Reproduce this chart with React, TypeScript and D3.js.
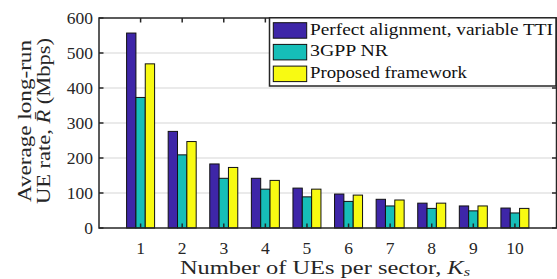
import React, { useEffect, useRef } from 'react'
import * as d3 from 'd3'

const categories = [1, 2, 3, 4, 5, 6, 7, 8, 9, 10]
const seriesNames = ['Perfect alignment, variable TTI', '3GPP NR', 'Proposed framework']
const legendWidths = [243, 78, 157]
const perfectAlignment = [557, 276, 183, 142, 114, 97, 82, 71, 63, 57]
const nr3gpp = [373, 209, 142, 111, 89, 76, 63, 56, 49, 43]
const proposed = [469, 247, 173, 136, 111, 94, 80, 71, 63, 56]
const yTicks = [0, 100, 200, 300, 400, 500, 600]
const colors = ['#3e26a8', '#16beb8', '#f8fa12']

const W = 557
const H = 279
const FONT = "'Liberation Serif', 'DejaVu Serif', serif"

const App: React.FC = () => {
  const svgRef = useRef<SVGSVGElement>(null)

  useEffect(() => {
    if (!svgRef.current) return
    const svg = d3.select(svgRef.current)
    svg.selectAll('*').remove()

    const left = 99
    const right = 556.5
    const top = 18
    const bottom = 228

    const x = d3.scaleLinear().domain([0, 11]).range([left, right])
    const y = d3.scaleLinear().domain([0, 600]).range([bottom, top])
    const groupWidth = 28
    const inner = d3.scaleBand<number>().domain([0, 1, 2]).range([-groupWidth / 2, groupWidth / 2])

    const series = [perfectAlignment, nr3gpp, proposed]

    // Grid
    svg
      .append('g')
      .selectAll('line')
      .data(yTicks.slice(1, -1))
      .enter()
      .append('line')
      .attr('x1', left)
      .attr('x2', right)
      .attr('y1', (d) => y(d))
      .attr('y2', (d) => y(d))
      .attr('stroke', '#e3e3e3')
      .attr('stroke-width', 1.5)

    // Bars
    series.forEach((vals, si) => {
      svg
        .append('g')
        .selectAll('rect')
        .data(vals)
        .enter()
        .append('rect')
        .attr('x', (_d, i) => x(categories[i]) + (inner(si) || 0))
        .attr('y', (d) => y(d))
        .attr('width', inner.bandwidth())
        .attr('height', (d) => bottom - y(d))
        .attr('fill', colors[si])
        .attr('stroke', '#111')
        .attr('stroke-width', 1)
    })

    // Box
    svg
      .append('rect')
      .attr('x', left)
      .attr('y', top)
      .attr('width', right - left)
      .attr('height', bottom - top)
      .attr('fill', 'none')
      .attr('stroke', '#262626')
      .attr('stroke-width', 1.5)

    const tickLen = 4.5
    const ticks = svg.append('g').attr('stroke', '#262626').attr('stroke-width', 1.5)
    yTicks.forEach((t) => {
      ticks.append('line').attr('x1', left).attr('x2', left + tickLen).attr('y1', y(t)).attr('y2', y(t))
      ticks.append('line').attr('x1', right).attr('x2', right - tickLen).attr('y1', y(t)).attr('y2', y(t))
    })
    categories.forEach((c) => {
      ticks.append('line').attr('x1', x(c)).attr('x2', x(c)).attr('y1', bottom).attr('y2', bottom - tickLen)
      ticks.append('line').attr('x1', x(c)).attr('x2', x(c)).attr('y1', top).attr('y2', top + tickLen)
    })

    // Tick labels
    svg
      .append('g')
      .selectAll('text')
      .data(yTicks)
      .enter()
      .append('text')
      .attr('x', 93)
      .attr('y', (d) => y(d))
      .attr('dy', '0.33em')
      .attr('text-anchor', 'end')
      .style('font-family', FONT)
      .style('font-size', '17.5px')
      .attr('fill', '#262626')
      .text((d) => d)

    svg
      .append('g')
      .selectAll('text')
      .data(categories)
      .enter()
      .append('text')
      .attr('x', (d) => x(d))
      .attr('y', 254)
      .attr('text-anchor', 'middle')
      .style('font-family', FONT)
      .style('font-size', '17.5px')
      .attr('fill', '#262626')
      .text((d) => d)

    // Axis labels
    const xl = svg
      .append('text')
      .attr('x', 180)
      .attr('y', 273.5)
      .attr('textLength', 290)
      .attr('lengthAdjust', 'spacingAndGlyphs')
      .style('font-family', FONT)
      .style('font-size', '19.5px')
      .attr('fill', '#262626')
    xl.append('tspan').text('Number of UEs per sector, ')
    xl.append('tspan').attr('font-style', 'italic').text('K')
    xl.append('tspan').attr('font-style', 'italic').style('font-size', '13px').attr('dy', 2.5).text('s')

    const cy = 121
    svg
      .append('text')
      .attr('transform', `translate(31,${cy}) rotate(-90)`)
      .attr('x', -81)
      .attr('textLength', 162)
      .attr('lengthAdjust', 'spacingAndGlyphs')
      .style('font-family', FONT)
      .style('font-size', '19px')
      .attr('fill', '#262626')
      .text('Average long-run')
    const yl2 = svg
      .append('text')
      .attr('transform', `translate(50,${cy}) rotate(-90)`)
      .attr('x', -83)
      .attr('textLength', 166)
      .attr('lengthAdjust', 'spacingAndGlyphs')
      .style('font-family', FONT)
      .style('font-size', '19px')
      .attr('fill', '#262626')
    yl2.append('tspan').text('UE rate, ')
    yl2.append('tspan').attr('font-style', 'italic').text('R\u0304')
    yl2.append('tspan').text(' (Mbps)')

    // Legend
    const lg = svg.append('g')
    lg.append('rect')
      .attr('x', 269.5)
      .attr('y', 17.8)
      .attr('width', 286.5)
      .attr('height', 68.2)
      .attr('fill', '#fff')
      .attr('stroke', '#262626')
      .attr('stroke-width', 1.5)
    seriesNames.forEach((name, i) => {
      const ry = 22.7 + i * 21.7
      lg.append('rect')
        .attr('x', 273.3)
        .attr('y', ry)
        .attr('width', 33.4)
        .attr('height', 15.5)
        .attr('fill', colors[i])
        .attr('stroke', '#111')
        .attr('stroke-width', 1)
      lg.append('text')
        .attr('x', 310)
        .attr('y', ry + 12)
        .attr('textLength', legendWidths[i])
        .attr('lengthAdjust', 'spacingAndGlyphs')
        .style('font-family', FONT)
        .style('font-size', '17px')
        .attr('fill', '#111')
        .text(name)
    })
  }, [])

  return (
    <svg
      ref={svgRef}
      width={W}
      height={H}
      style={{ position: 'absolute', left: 0, top: 0, background: '#fff' }}
    />
  )
}

export default App
